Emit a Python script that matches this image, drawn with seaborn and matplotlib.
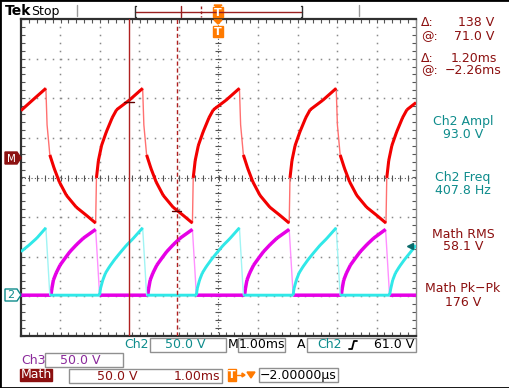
import numpy as np
import pandas as pd
import matplotlib
matplotlib.use("Agg")
import matplotlib.pyplot as plt
import seaborn as sns
from matplotlib.patches import Rectangle, Polygon
from matplotlib.lines import Line2D

# ---------------- data (time in ms, trigger at centre) ----------------
math_t = [-5.00, -4.71, -4.37,
          -4.34, -4.27, -4.16, -4.03, -3.85, -3.60, -3.35, -3.11,
          -3.09, -3.04, -2.96, -2.84, -2.69, -2.58, -2.26, -1.92,
          -1.89, -1.82, -1.71, -1.58, -1.40, -1.15, -0.90, -0.66,
          -0.64, -0.59, -0.51, -0.39, -0.24, -0.13, 0.19, 0.53,
          0.56, 0.63, 0.74, 0.87, 1.05, 1.30, 1.55, 1.79,
          1.81, 1.86, 1.94, 2.06, 2.21, 2.32, 2.64, 2.98,
          3.01, 3.08, 3.19, 3.32, 3.50, 3.75, 4.00, 4.24,
          4.26, 4.31, 4.39, 4.51, 4.66, 4.77, 5.00]
math_v = [60, 73, 88,
          42, 4, -13, -30, -47, -62, -72, -82,
          -25, -3, 16, 33, 51, 61, 73, 88,
          42, 4, -13, -30, -47, -62, -72, -82,
          -25, -3, 16, 33, 51, 61, 73, 88,
          42, 4, -13, -30, -47, -62, -72, -82,
          -25, -3, 16, 33, 51, 61, 73, 88,
          42, 4, -13, -30, -47, -62, -72, -82,
          -25, -3, 16, 33, 51, 61, 70]

ch2_t = [-5.00, -4.80, -4.60, -4.37, -4.27,
         -3.01, -2.99, -2.93, -2.86, -2.76, -2.63, -2.50, -2.33, -2.17, -1.92, -1.82,
         -0.56, -0.54, -0.48, -0.41, -0.31, -0.18, -0.05, 0.12, 0.28, 0.53, 0.63,
         1.89, 1.91, 1.97, 2.04, 2.14, 2.27, 2.40, 2.57, 2.73, 2.98, 3.08,
         4.33, 4.36, 4.41, 4.48, 4.58, 4.71, 4.84, 5.00]
ch2_v = [55, 63, 72, 85, 0,
         0, 8, 19, 28, 36, 45, 53, 63, 71, 85, 0,
         0, 8, 19, 28, 36, 45, 53, 63, 71, 85, 0,
         0, 8, 19, 28, 36, 45, 53, 63, 71, 85, 0,
         0, 8, 19, 28, 36, 45, 53, 63]

ch3_t = [-5.00,
         -4.24, -4.22, -4.18, -4.11, -4.01, -3.88, -3.76, -3.59, -3.42, -3.11, -3.01,
         -1.79, -1.77, -1.73, -1.66, -1.56, -1.43, -1.31, -1.14, -0.97, -0.66, -0.56,
         0.66, 0.68, 0.72, 0.79, 0.89, 1.02, 1.14, 1.31, 1.48, 1.79, 1.89,
         3.11, 3.13, 3.17, 3.24, 3.34, 3.47, 3.59, 3.76, 3.93, 4.23, 4.33,
         5.00]
ch3_v = [0,
         0, 8, 19, 28, 38, 47, 55, 64, 72, 83, 0,
         0, 8, 19, 28, 38, 47, 55, 64, 72, 83, 0,
         0, 8, 19, 28, 38, 47, 55, 64, 72, 83, 0,
         0, 8, 19, 28, 38, 47, 55, 64, 72, 83, 0,
         0]

cursor_t = [-2.26, -1.06]
cursor_v = [71.0, -67.0]

cursor_labels = ["\u0394:", "@:", "\u0394:", "@:"]
cursor_values = ["138 V", "71.0 V", "1.20ms", "\u22122.26ms"]
meas_names = ["Ch2 Ampl", "Ch2 Freq", "Math RMS", "Math Pk\u2212Pk"]
meas_values = ["93.0 V", "407.8 Hz", "58.1 V", "176 V"]

# ---------------- scope settings ----------------
VOLTS_PER_DIV = 50.0
MATH_OFFSET = 0.49     # divisions
CH_OFFSET = -2.97      # divisions (Ch2 and Ch3 ground)
FAST_SLOPE = 10.0      # div/ms: faster edges are drawn dim and thin, like a DPO display

RED, RED_DIM = "#f20000", "#ff7070"
CYAN, CYAN_DIM = "#30e8e8", "#a0f4f4"
MAG, MAG_DIM = "#e600e6", "#ff90ff"
DRED = "#8c1010"
TEAL = "#0e8c8c"
PURP = "#8b2a9b"
ORNG = "#ff7a00"

sns.set_style("white")
plt.rcParams["font.family"] = ["DejaVu Sans"]

W, H = 510, 388
fig = plt.figure(figsize=(W / 100, H / 100), dpi=100)
fig.patch.set_facecolor("white")
ax = fig.add_axes([21 / W, 1 - 336 / H, (416 - 21) / W, (336 - 19) / H])
ax.set_xlim(-5, 5)
ax.set_ylim(-4, 4)

# graticule
gcol = "#8a8a8a"
fine_x = np.arange(-5, 5.001, 0.2)
fine_y = np.arange(-4, 4.001, 0.2)
for k in range(-4, 5):
    if k == 0:
        continue
    ax.plot(np.full_like(fine_y, k), fine_y, ls="none", marker="s", ms=1.1, mec="none", mfc=gcol, zorder=1)
for j in range(-3, 4):
    if j == 0:
        continue
    ax.plot(fine_x, np.full_like(fine_x, j), ls="none", marker="s", ms=1.1, mec="none", mfc=gcol, zorder=1)
ax.plot([-5, 5], [0, 0], color="#555555", lw=0.8, ls=(0, (1, 2)), zorder=1)
ax.plot([0, 0], [-4, 4], color="#555555", lw=0.8, ls=(0, (1, 2)), zorder=1)
ax.plot(fine_x, np.zeros_like(fine_x), ls="none", marker="|", ms=4, mew=0.8, color="#555555", zorder=1)
ax.plot(np.zeros_like(fine_y), fine_y, ls="none", marker="_", ms=4, mew=0.8, color="#555555", zorder=1)

ax.set_xticks(fine_x)
ax.set_yticks(fine_y)
ax.tick_params(direction="in", length=3, width=0.8, color="#555555",
               top=True, right=True, bottom=True, left=True,
               labelbottom=False, labelleft=False)
for s in ["left", "top", "bottom"]:
    ax.spines[s].set_color("#303030")
    ax.spines[s].set_linewidth(1.6)
ax.spines["right"].set_color("#8a8a8a")
ax.spines["right"].set_linewidth(1.0)


# traces: thin dim line for the whole record, thick bright line for the slow parts
def draw_trace(t, v, offset, col, dim, lw, z):
    df = pd.DataFrame({"t": t, "div": np.array(v, dtype=float) / VOLTS_PER_DIV + offset})
    sns.lineplot(data=df, x="t", y="div", ax=ax, sort=False, estimator=None, color=dim, lw=1.0, zorder=z)
    tt = df["t"].to_numpy()
    yy = df["div"].to_numpy()
    xs, ys = [], []
    for i in range(len(tt) - 1):
        slope = abs(yy[i + 1] - yy[i]) / max(tt[i + 1] - tt[i], 1e-6)
        if slope <= FAST_SLOPE:
            xs += [tt[i], tt[i + 1], np.nan]
            ys += [yy[i], yy[i + 1], np.nan]
    ax.plot(xs, ys, color=col, lw=lw, zorder=z + 0.5, solid_capstyle="butt")


draw_trace(ch3_t, ch3_v, CH_OFFSET, MAG, MAG_DIM, 2.5, 3)
draw_trace(ch2_t, ch2_v, CH_OFFSET, CYAN, CYAN_DIM, 2.1, 4)
draw_trace(math_t, math_v, MATH_OFFSET, RED, RED_DIM, 2.2, 5)
ax.set_xlabel("")
ax.set_ylabel("")
ax.set_xlim(-5, 5)
ax.set_ylim(-4, 4)

# cursors
ax.axvline(cursor_t[0], color="#b02020", lw=1.0, zorder=6)
ax.axvline(cursor_t[1], color="#b02020", lw=1.0, ls=(0, (3, 2)), zorder=6)
for ct, cv in zip(cursor_t, cursor_v):
    yy = cv / VOLTS_PER_DIV + MATH_OFFSET
    ax.plot([ct - 0.12, ct + 0.12], [yy, yy], color="#600000", lw=1.0, zorder=7)

# small teal cursor pointer on Ch2 at right
ax.plot([4.85], [62 / VOLTS_PER_DIV + CH_OFFSET], marker="<", ms=5, color="#0b6b6b", ls="none", zorder=8)


# ---------------- annotation helpers ----------------
def fx(x):
    return x / W


def fy(y):
    return 1 - y / H


def txt(x, y, s, color="black", size=9, ha="left", weight="normal"):
    fig.text(fx(x), fy(y), s, color=color, fontsize=size, ha=ha, va="center", fontweight=weight)


def fline(xs, ys, color, lw=1.0, ls="-"):
    fig.add_artist(Line2D([fx(v) for v in xs], [fy(v) for v in ys], transform=fig.transFigure,
                          color=color, lw=lw, ls=ls))


def fbox(x0, y0, x1, y1, fc="white", ec="#909090", lw=1.0):
    fig.add_artist(Rectangle((fx(x0), fy(y1)), fx(x1) - fx(x0), fy(y0) - fy(y1),
                             transform=fig.transFigure, facecolor=fc, edgecolor=ec, lw=lw))


def fpoly(pts, fc, ec=None, lw=1.0):
    fig.add_artist(Polygon([(fx(a), fy(b)) for a, b in pts], closed=True, transform=fig.transFigure,
                           facecolor=fc, edgecolor=ec if ec else fc, lw=lw))


def tmarker(x0, y0, x1, y1):
    fbox(x0, y0, x1, y1, fc=ORNG, ec=ORNG)
    txt((x0 + x1) / 2, (y0 + y1) / 2 + 0.5, "T", color="white", size=8, ha="center", weight="bold")


# outer frame
fig.add_artist(Rectangle((0, 0), 1, 1, transform=fig.transFigure, fill=False, edgecolor="black", lw=2.0))

# top status bar
txt(5, 11, "Tek", size=10, weight="bold")
txt(31, 11, "Stop", size=9)
fline([77, 77], [5, 16], "#9a9a9a")
fline([359, 359], [5, 16], "#9a9a9a")
fline([135, 302], [11.5, 11.5], "#9a2020", lw=1.0)
fline([136, 135, 135, 136], [6, 6, 17, 17], "#303030", lw=1.0)
fline([301, 302, 302, 301], [6, 6, 17, 17], "#303030", lw=1.0)
fline([181, 181], [6, 17], "#9a2020", lw=1.0)
fline([201, 201], [6, 17], "#9a2020", lw=1.0, ls=(0, (2, 1.5)))
tmarker(213, 7, 223, 17)
fpoly([(214, 5), (222, 5), (218, 8)], ORNG)

# trigger position marker on top of graticule
fpoly([(214, 20), (222, 20), (218, 24)], ORNG)
tmarker(213, 26, 223, 37)

# ground markers on the left
fpoly([(5, 152), (17, 152), (21, 158), (17, 164), (5, 164)], DRED)
txt(11, 158.5, "M", color="white", size=7.5, ha="center")
fpoly([(5, 289), (17, 289), (21, 295), (17, 301), (5, 301)], "white", ec=TEAL, lw=1.0)
txt(11, 295.5, "2", color=TEAL, size=8, ha="center")

# cursor readouts
for lab, val, yy, xr in zip(cursor_labels, cursor_values, [23, 37, 58, 71], [494, 494, 497, 501]):
    txt(421, yy, lab, color=DRED)
    txt(xr, yy, val, color=DRED, ha="right")

# measurement readouts
meas_colors = [TEAL, TEAL, DRED, DRED]
for name, val, col, yy in zip(meas_names, meas_values, meas_colors, [122, 178, 234, 289]):
    txt(463, yy, name, color=col, ha="center")
    txt(463, yy + 13, val, color=col, ha="center")

# bottom settings rows
txt(124, 345, "Ch2", color=TEAL)
fbox(150, 338, 226, 352)
txt(185, 345, "50.0 V", color=TEAL, ha="center")
txt(228, 345, "M", color="black")
fbox(238, 338, 285, 352)
txt(262, 345, "1.00ms", color="black", ha="center")
txt(297, 345, "A", color="black")
fbox(307, 338, 416, 352)
txt(317, 345, "Ch2", color=TEAL)
fline([349, 352, 354, 357], [349, 349, 341, 341], "black", lw=1.3)
txt(414, 345, "61.0 V", color="black", ha="right")

txt(21, 360, "Ch3", color=PURP)
fbox(45, 353, 123, 367)
txt(80, 360, "50.0 V", color=PURP, ha="center")

fbox(20, 369, 52, 381, fc=DRED, ec=DRED)
txt(36, 375, "Math", color="white", ha="center")
fbox(69, 369, 222, 383)
txt(117, 376, "50.0 V", color=DRED, ha="center")
txt(220, 376, "1.00ms", color=DRED, ha="right")
tmarker(228, 369, 236, 381)
fline([237, 244], [375, 375], ORNG, lw=1.0)
fpoly([(242, 373), (245, 375), (242, 377)], ORNG)
fpoly([(247, 372), (255, 372), (251, 378)], ORNG)
fbox(259, 368, 338, 382)
txt(298, 375, "\u22122.00000\u00b5s", color="black", ha="center")

fig.savefig("out.png", dpi=100, facecolor="white")
